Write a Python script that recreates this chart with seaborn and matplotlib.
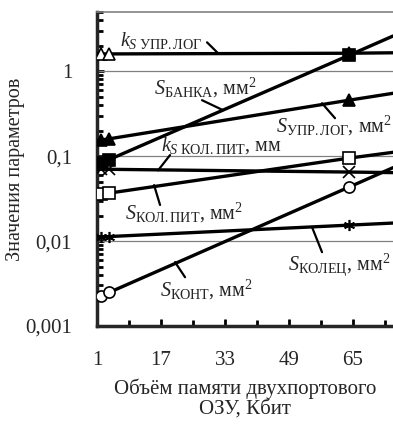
import numpy as np
import pandas as pd
import seaborn as sns
import matplotlib.pyplot as plt
from matplotlib.ticker import FixedLocator, FixedFormatter, LogLocator, NullFormatter

# --- data ---
mem = [1, 2, 4, 64, 75]          # объём памяти, Кбит (line ends + marker points)
k_upr_log = [1.60, 1.60, 1.60, 1.63, 1.65]
s_banka = [0.079, 0.083, 0.091, 1.54, 2.6]
s_upr_log = [0.152, 0.155, 0.16, 0.456, 0.55]
k_kol_pit = [0.070, 0.070, 0.070, 0.065, 0.064]
s_kol_pit = [0.0348, 0.0357, 0.0367, 0.0948, 0.111]
s_kolec = [0.0112, 0.0112, 0.0113, 0.0154, 0.0163]
s_kont = [0.00213, 0.00225, 0.00248, 0.0432, 0.0732]

x_ticks = [1, 17, 33, 49, 65]
y_ticks = [0.001, 0.01, 0.1, 1]
y_tick_labels = ['0,001', '0,01', '0,1', '1']

sns.set_style('ticks')
plt.rcParams['font.family'] = ['Liberation Serif', 'DejaVu Serif']
plt.rcParams['mathtext.fontset'] = 'custom'
plt.rcParams['mathtext.rm'] = 'Liberation Serif'
plt.rcParams['mathtext.it'] = 'Liberation Serif:italic'

fig = plt.figure(figsize=(3.93, 4.25), dpi=100)
ax = fig.add_axes([0.247, 0.233, 0.753, 0.739])

series = [
    (k_upr_log, '^', 'white'),
    (s_banka, 's', 'black'),
    (s_upr_log, '^', 'black'),
    (k_kol_pit, 'x', 'black'),
    (s_kol_pit, 's', 'white'),
    (s_kolec, (6, 2, 0), 'black'),
    (s_kont, 'o', 'white'),
]
for vals, mk, fc in series:
    df = pd.DataFrame({'x': mem, 'y': vals})
    sns.lineplot(data=df, x='x', y='y', ax=ax, color='black', lw=2.4,
                 marker=mk, markevery=[1, 2, 3], markersize=8,
                 markerfacecolor=fc, markeredgecolor='black', markeredgewidth=1.2,
                 zorder=3)

ax.set_yscale('log')
ax.set_xlim(1, 75)
ax.set_ylim(0.001, 5)

for g in [0.01, 0.1, 1]:
    ax.axhline(g, color='#808080', lw=0.9, zorder=1)

ax.xaxis.set_major_locator(FixedLocator(x_ticks))
ax.xaxis.set_minor_locator(FixedLocator([9, 25, 41, 57, 73]))
ax.yaxis.set_major_locator(FixedLocator(y_ticks))
ax.yaxis.set_major_formatter(FixedFormatter(y_tick_labels))
ax.yaxis.set_minor_locator(LogLocator(base=10, subs=np.arange(2, 10)))
ax.yaxis.set_minor_formatter(NullFormatter())
ax.tick_params(which='both', direction='in', width=2, labelsize=15, color='black')
ax.tick_params(which='major', length=5)
ax.tick_params(axis='y', which='major', pad=18)
ax.tick_params(axis='x', which='major', pad=18)
ax.tick_params(which='minor', length=4)

ax.spines['right'].set_visible(False)
ax.spines['top'].set_color('#808080')
ax.spines['top'].set_linewidth(1.2)
ax.spines['left'].set_linewidth(2.5)
ax.spines['bottom'].set_linewidth(2.5)

ax.set_xlabel('Объём памяти двухпортового\nОЗУ, Кбит', fontsize=15, labelpad=6,
              linespacing=1.05)
ax.set_ylabel('Значения параметров', fontsize=14.5, labelpad=0)

labels = [
    (r'$k_{S\ \mathrm{УПР.ЛОГ}}$', (17, 2.32), (28.5, 2.19), (31.25, 1.63)),
    (r'$S_{\mathrm{БАНКА}}$, мм$^2$', (28, 0.63), (27.25, 0.456), (32.5, 0.348)),
    (r'$S_{\mathrm{УПР.ЛОГ}}$, мм$^2$', (60.2, 0.225), (57.25, 0.42), (60.5, 0.28)),
    (r'$k_{S\ \mathrm{КОЛ.ПИТ}}$, мм', (32, 0.135), (19.25, 0.103), (16.25, 0.068)),
    (r'$S_{\mathrm{КОЛ.ПИТ}}$, мм$^2$', (22.75, 0.0214), (15.25, 0.0456), (16.75, 0.0266)),
    (r'$S_{\mathrm{КОЛЕЦ}}$, мм$^2$', (61.6, 0.00522), (54.75, 0.0146), (57.25, 0.0074)),
    (r'$S_{\mathrm{КОНТ}}$, мм$^2$', (28.25, 0.00265), (20.5, 0.00565), (23, 0.00375)),
]
for txt, pos, p1, p2 in labels:
    ax.text(pos[0], pos[1], txt, fontsize=14.5, ha='center', va='center', zorder=4,
            clip_on=False)
    ax.plot([p1[0], p2[0]], [p1[1], p2[1]], color='black', lw=1.6, zorder=4)

fig.savefig('out.png', dpi=100)
